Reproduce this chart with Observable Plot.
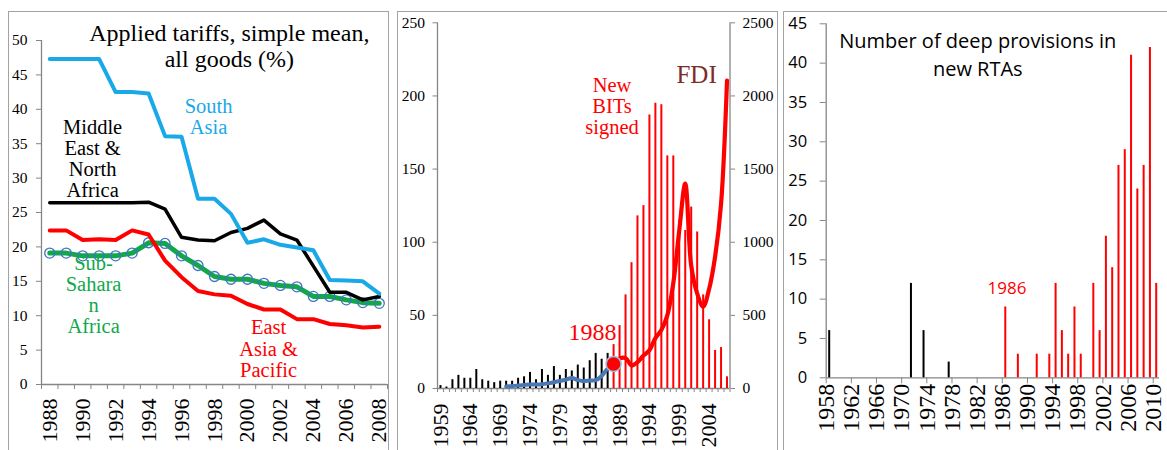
<!DOCTYPE html>
<html><head><meta charset="utf-8">
<script src="https://cdn.jsdelivr.net/npm/d3@7"></script>
<script src="https://cdn.jsdelivr.net/npm/@observablehq/plot@0.6"></script>
<style>
body{margin:0;background:#fff;}
#wrap{position:relative;width:1167px;height:450px;overflow:hidden;background:#fff;}
.panel{position:absolute;top:0;height:450px;}
.panel svg{display:block;max-width:none;}
#wrap svg text{font-family:"Liberation Serif" !important;}
#wrap svg .sans text, #wrap svg text.sans{font-family:"Open Sans" !important;}
.frame{position:absolute;border:1.6px solid #a3a3a3;top:11px;height:520px;pointer-events:none;box-sizing:border-box;}
</style></head><body><div id="wrap"></div>
<script>
// ---------- Panel 1: applied tariffs ----------
const tariffYears = [1988,1989,1990,1991,1992,1993,1994,1995,1996,1997,1998,1999,2000,2001,2002,2003,2004,2005,2006,2007,2008];
const southAsia = [47.3,47.3,47.3,47.3,42.5,42.5,42.3,36.1,36.0,27.0,27.0,24.8,20.6,21.1,20.3,19.9,19.5,15.2,15.1,15.0,13.2];
const middleEastNorthAfrica = [26.4,26.4,26.4,26.4,26.4,26.4,26.5,25.5,21.4,21.0,20.9,22.1,22.7,23.9,21.9,21.0,17.2,13.4,13.4,12.3,12.8];
const eastAsiaPacific = [22.4,22.4,21.0,21.1,21.0,22.4,21.8,18.0,15.6,13.6,13.1,12.9,11.7,10.9,10.9,9.5,9.5,8.8,8.6,8.3,8.4];
const subSaharanAfrica = [19.1,19.1,18.7,18.7,18.7,19.1,20.6,20.5,18.7,17.3,15.7,15.3,15.3,14.7,14.4,14.2,12.8,12.8,12.3,11.9,11.8];
const tariffTicks = [0,5,10,15,20,25,30,35,40,45,50];
const tariffYearLabels = [1988,1990,1992,1994,1996,1998,2000,2002,2004,2006,2008];

// ---------- Panel 2: BITs and FDI ----------
const bitYears = [1959,1960,1961,1962,1963,1964,1965,1966,1967,1968,1969,1970,1971,1972,1973,1974,1975,1976,1977,1978,1979,1980,1981,1982,1983,1984,1985,1986,1987,1988,1989,1990,1991,1992,1993,1994,1995,1996,1997,1998,1999,2000,2001,2002,2003,2004,2005,2006,2007];
const bitsSigned = [2,1,6,9,7,7,13,6,5,4,5,5,5,7,8,11,6,13,9,15,9,13,12,16,14,19,24,20,24,30,43,64,86,118,125,187,195,194,159,159,115,108,124,107,64,47,26,28,8];
const fdiYears = [1970,1971,1972,1973,1974,1975,1976,1977,1978,1979,1980,1981,1982,1983,1984,1985,1986,1987,1988,1989,1990,1991,1992,1993,1994,1995,1996,1997,1998,1999,2000,2001,2002,2003,2004,2005,2006,2007];
const fdiValues = [14,17,20,24,28,27,29,35,43,52,60,72,58,50,55,57,86,136,168,205,208,158,180,225,262,345,400,500,720,1080,1400,840,650,560,680,900,1260,2105];
const bitsTicks = [0,50,100,150,200,250];
const fdiTicks = [0,500,1000,1500,2000,2500];
const bitYearLabels = [1959,1964,1969,1974,1979,1984,1989,1994,1999,2004];
const breakYear = 1988;

// ---------- Panel 3: deep provisions in RTAs ----------
const rtaYears = [1958,1971,1973,1977,1986,1988,1991,1993,1994,1995,1996,1997,1998,2000,2001,2002,2003,2004,2005,2006,2007,2008,2009,2010];
const rtaProvisions = [6,12,6,2,9,3,3,3,12,6,3,9,3,12,6,18,14,27,29,41,24,27,42,12];
const rtaTicks = [0,5,10,15,20,25,30,35,40,45];
const rtaYearLabels = [1958,1962,1966,1970,1974,1978,1982,1986,1990,1994,1998,2002,2006,2010];
const rtaBreakYear = 1986;

const SERIF = "Liberation Serif";
const AXIS = "#868686";
const RED = "#ff0000";

const series = (arr, name) => tariffYears.map((y, i) => ({year: y, value: arr[i], region: name}));
const sa = series(southAsia, "South Asia");
const mena = series(middleEastNorthAfrica, "MENA");
const eap = series(eastAsiaPacific, "EAP");
const ssa = series(subSaharanAfrica, "SSA");
const bounds1 = tariffYears.map(y => y - 0.5).concat([tariffYears[tariffYears.length - 1] + 0.5]);

const p1 = Plot.plot({
  width: 390, height: 450,
  marginLeft: 41, marginRight: 3, marginTop: 40, marginBottom: 66,
  x: {domain: [bounds1[0], bounds1[bounds1.length - 1]]},
  y: {domain: [0, 50]},
  style: {fontFamily: SERIF, color: "#000", background: "transparent", overflow: "visible"},
  marks: [
    Plot.axisY({ticks: tariffTicks, tickSize: 5, tickPadding: 9, fontSize: 15.5, stroke: AXIS, label: null}),
    Plot.axisX({ticks: bounds1, tickSize: 5, tickFormat: () => "", stroke: AXIS, label: null}),
    Plot.axisX({ticks: tariffYearLabels, tickSize: 0, tickPadding: 14, tickRotate: -90, fontSize: 22, tickFormat: d => String(d), label: null}),
    Plot.ruleX([bounds1[0]], {stroke: AXIS, strokeWidth: 1.3}),
    Plot.ruleY([0], {stroke: AXIS, strokeWidth: 1.3}),
    Plot.line(ssa, {x: "year", y: "value", stroke: "#10a84a", strokeWidth: 5}),
    Plot.dot(ssa, {x: "year", y: "value", r: 5, stroke: "#4472c4", strokeWidth: 1.3, fill: "none"}),
    Plot.line(mena, {x: "year", y: "value", stroke: "#000", strokeWidth: 3.5}),
    Plot.line(sa, {x: "year", y: "value", stroke: "#19a9e8", strokeWidth: 4}),
    Plot.line(eap, {x: "year", y: "value", stroke: RED, strokeWidth: 4}),
    Plot.text([{x: 1998.9, y: 49.2, t: "Applied tariffs, simple mean,\nall goods (%)"}], {x: "x", y: "y", text: "t", fontSize: 24, lineHeight: 1.09, fill: "#000"}),
    Plot.text([{x: 1997.64, y: 38.9, t: "South\nAsia"}], {x: "x", y: "y", text: "t", fontSize: 20.5, lineHeight: 1.03, fill: "#19a9e8"}),
    Plot.text([{x: 1990.6, y: 32.85, t: "Middle\nEast &\nNorth\nAfrica"}], {x: "x", y: "y", text: "t", fontSize: 20.5, lineHeight: 1.03, fill: "#000"}),
    Plot.text([{x: 1990.66, y: 13.0, t: "Sub-\nSahara\nn\nAfrica"}], {x: "x", y: "y", text: "t", fontSize: 20.5, lineHeight: 1.03, fill: "#10a84a"}),
    Plot.text([{x: 2001.28, y: 5.2, t: "East\nAsia &\nPacific"}], {x: "x", y: "y", text: "t", fontSize: 20.5, lineHeight: 1.05, fill: RED})
  ]
});

// Panel 2
const bits = bitYears.map((y, i) => ({year: y, value: bitsSigned[i]}));
const fdi = fdiYears.map((y, i) => ({year: y, value: fdiValues[i]}));
const fdiBlue = fdi.filter(d => d.year <= breakYear);
const fdiRed = fdi.filter(d => d.year >= breakYear);
const fdiBreak = fdi.filter(d => d.year === breakYear);
const bounds2 = bitYears.map(y => y - 0.5).concat([bitYears[bitYears.length - 1] + 0.5]);
const fdiScale = fdiTicks[fdiTicks.length - 1] / bitsTicks[bitsTicks.length - 1];

const p2 = Plot.plot({
  width: 388, height: 450,
  marginLeft: 45, marginRight: 50.5, marginTop: 22.3, marginBottom: 62,
  x: {domain: [bounds2[0], bounds2[bounds2.length - 1]]},
  y: {domain: [0, 250]},
  style: {fontFamily: SERIF, color: "#000", background: "transparent", overflow: "visible"},
  marks: [
    Plot.axisY({ticks: bitsTicks, anchor: "left", tickSize: 4.5, tickPadding: 8, fontSize: 15.5, stroke: AXIS, label: null}),
    Plot.axisY({ticks: bitsTicks, anchor: "right", tickSize: 4.5, tickPadding: 8, fontSize: 15.5, stroke: AXIS, label: null, tickFormat: d => String(d * fdiScale)}),
    Plot.axisX({ticks: bounds2, tickSize: 4, tickFormat: () => "", stroke: AXIS, label: null}),
    Plot.axisX({ticks: bitYearLabels, tickSize: 0, tickPadding: 15, tickRotate: -90, fontSize: 22, tickFormat: d => String(d), label: null}),
    Plot.ruleX([bounds2[0], bounds2[bounds2.length - 1]], {stroke: AXIS, strokeWidth: 1.3}),
    Plot.ruleY([0], {stroke: AXIS, strokeWidth: 1.3}),
    Plot.ruleX(bits, {x: "year", y1: 0, y2: "value", stroke: d => d.year < breakYear ? "#000" : RED, strokeWidth: 2}),
    Plot.line(fdiBlue, {x: "year", y: d => d.value / fdiScale, stroke: "#4a78b3", strokeWidth: 4, curve: "catmull-rom"}),
    Plot.line(fdiRed, {x: "year", y: d => d.value / fdiScale, stroke: RED, strokeWidth: 4.2, curve: "catmull-rom"}),
    Plot.dot(fdiBreak, {x: "year", y: d => d.value / fdiScale, r: 7.5, fill: RED, stroke: "#9ebde3", strokeWidth: 1.5}),
    Plot.text([{x: 1987.73, y: 192.8, t: "New\nBITs\nsigned"}], {x: "x", y: "y", text: "t", fontSize: 20.5, lineHeight: 1.03, fill: RED}),
    Plot.text([{x: 2001.9, y: 214, t: "FDI"}], {x: "x", y: "y", text: "t", fontSize: 25, fill: "#7b2d2d"}),
    Plot.text([{x: 1984.46, y: 38.3, t: "1988"}], {x: "x", y: "y", text: "t", fontSize: 24, fill: RED})
  ]
});

// Panel 3
const rta = rtaYears.map((y, i) => ({year: y, value: rtaProvisions[i]}));
const p3 = Plot.plot({
  width: 387, height: 450,
  marginLeft: 45.7, marginRight: 8, marginTop: 23.3, marginBottom: 72.7,
  x: {domain: [1958, 2011]},
  y: {domain: [0, 45]},
  style: {fontFamily: SERIF, color: "#000", background: "transparent", overflow: "visible"},
  marks: [
    Plot.axisY({ticks: rtaTicks, tickSize: 6, tickPadding: 13, fontSize: 16.5, stroke: AXIS, label: null}),
    Plot.axisX({ticks: rtaYearLabels, tickSize: 6, tickPadding: 0, tickRotate: -90, fontSize: 24, stroke: AXIS, tickFormat: d => String(d), label: null}),
    Plot.ruleX([1958], {stroke: AXIS, strokeWidth: 1.3}),
    Plot.ruleY([0], {stroke: AXIS, strokeWidth: 1.3}),
    Plot.ruleX(rta, {x: "year", y1: 0, y2: "value", dx: 3, stroke: d => d.year < rtaBreakYear ? "#000" : RED, strokeWidth: 2}),
    Plot.text([{x: 1982.1, y: 41.3, t: "Number of deep provisions in\nnew RTAs"}], {x: "x", y: "y", text: "t", fontSize: 20, lineHeight: 1.4, fill: "#000"}),
    Plot.text([{x: 1986.74, y: 11.4, t: "1986"}], {x: "x", y: "y", text: "t", fontSize: 17, fill: RED})
  ]
});

// Panel 3 uses a sans face for its title, the 1986 note and the y-axis labels
p3.querySelectorAll('g[aria-label="text"], g[aria-label="y-axis tick label"]').forEach(g => g.classList.add("sans"));

const wrap = document.getElementById("wrap");
[[p1, 0, 390], [p2, 392, 388], [p3, 780, 387]].forEach(([svg, left, w]) => {
  const d = document.createElement("div");
  d.className = "panel";
  d.style.left = left + "px";
  d.style.width = w + "px";
  d.appendChild(svg);
  wrap.appendChild(d);
});
[[8, 381], [396.5, 381], [783, 420]].forEach(([left, w]) => {
  const f = document.createElement("div");
  f.className = "frame";
  f.style.left = left + "px";
  f.style.width = w + "px";
  wrap.appendChild(f);
});
</script></body></html>
